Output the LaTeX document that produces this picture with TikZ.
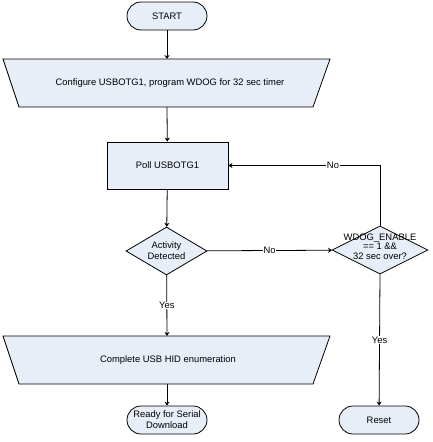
\documentclass[tikz,border=0pt]{standalone}
\usepackage{fontspec}
\setmainfont{Liberation Sans}
\usetikzlibrary{shapes.geometric,shapes.misc,arrows.meta}
\definecolor{boxfill}{HTML}{E8EEF8}
\tikzset{
  txt/.style={font=\fontsize{9.4}{11}\selectfont},
  base/.style={draw=black, line width=0.8pt, fill=boxfill, txt, align=center, inner sep=0pt},
  term/.style={base, rounded rectangle, minimum width=80pt, minimum height=28pt},
  procbox/.style={base, rectangle, minimum width=121pt, minimum height=47pt},
  decision/.style={base, diamond, aspect=1.7, minimum width=81pt, minimum height=48pt},
  conn/.style={line width=0.8pt, -{Stealth[length=4pt,width=5pt]}},
  lbl/.style={txt, fill=white, inner sep=0.5pt}
}
\begin{document}
\begin{tikzpicture}[x=1pt,y=-1pt]
\useasboundingbox (0,0) rectangle (432,442);
% START
\node[term] (start) at (167,16) {START};
% Configure trapezoid
\path[base] (3,59) -- (330,59) -- (313,107) -- (19,107) -- cycle;
\node[txt, inner sep=0pt] (config) at (170,83) {Configure USBOTG1, program WDOG for 32 sec timer};
\coordinate (configtop) at (167,59);
\coordinate (configbot) at (167,107);
% Poll
\node[procbox] (poll) at (167.5,165.5) {Poll USBOTG1};
% Activity
\node[decision] (act) at (166.5,251) {Activity\\Detected};
% WDOG
\node[decision, minimum width=96pt] (wdog) at (380,250)
  {\smash{\makebox[0pt]{\begin{tabular}{@{}c@{}}WDOG\_ENABLE\\[-1.5pt]== 1 \&\&\\[-1.5pt]32 sec over?\end{tabular}}}};
% Complete trapezoid
\path[base] (3,336) -- (330,336) -- (313,384) -- (19,384) -- cycle;
\node[txt, inner sep=0pt] (complete) at (168,360) {Complete USB HID enumeration};
\coordinate (comptop) at (167,336);
\coordinate (compbot) at (167,384);
% Terminals
\node[term] (ready) at (167,420) {Ready for Serial\\Download};
\node[term] (reset) at (379,420) {Reset};
% connectors
\draw[conn] (start) -- (configtop);
\draw[conn] (configbot) -- (poll);
\draw[conn] (poll) -- (act);
\draw[conn] (act) -- node[lbl, pos=0.5] {Yes} (comptop);
\draw[conn] (compbot) -- (ready);
\draw[conn] (act) -- node[lbl, pos=0.5] {No} (wdog);
\draw[conn] (wdog.north) |- node[lbl, pos=0.655] {No} (poll.east);
\draw[conn] (wdog.south) -- node[lbl, pos=0.5] {Yes} (reset);
\end{tikzpicture}
\end{document}
